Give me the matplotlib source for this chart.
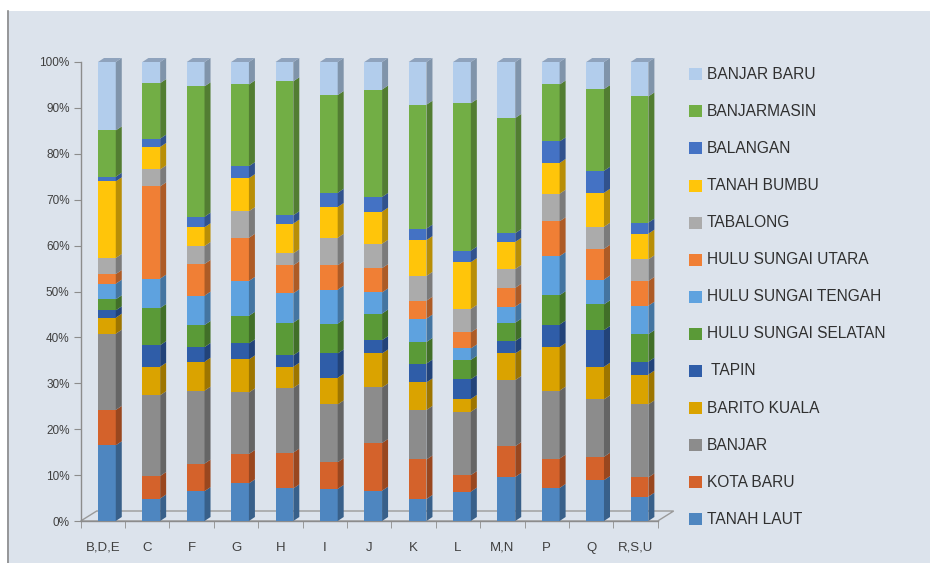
import matplotlib
matplotlib.use("Agg")
import matplotlib.pyplot as plt
from matplotlib.patches import Rectangle, Polygon
from matplotlib.lines import Line2D
import numpy as np

categories = ["B,D,E", "C", "F", "G", "H", "I", "J", "K", "L", "M,N", "P", "Q", "R,S,U"]

series_names = ["TANAH LAUT", "KOTA BARU", "BANJAR", "BARITO KUALA", " TAPIN",
                "HULU SUNGAI SELATAN", "HULU SUNGAI TENGAH", "HULU SUNGAI UTARA",
                "TABALONG", "TANAH BUMBU", "BALANGAN", "BANJARMASIN", "BANJAR BARU"]

tanah_laut   = [16.5, 4.9, 6.5, 8.2, 7.1, 7.0, 6.6, 4.8, 6.4, 9.6, 7.2, 8.9, 5.3]
kota_baru    = [7.7, 4.9, 6.0, 6.4, 7.8, 5.8, 10.4, 8.6, 3.6, 6.7, 6.4, 5.1, 4.2]
banjar       = [16.6, 17.6, 15.9, 13.4, 14.1, 12.6, 12.1, 10.8, 13.8, 14.4, 14.8, 12.5, 15.9]
barito_kuala = [3.5, 6.2, 6.3, 7.2, 4.6, 5.8, 7.4, 6.0, 2.8, 5.8, 9.5, 7.1, 6.5]
tapin        = [1.6, 4.7, 3.2, 3.5, 2.5, 5.3, 2.9, 4.1, 4.3, 2.7, 4.9, 8.0, 2.8]
hss          = [2.4, 8.1, 4.8, 6.0, 7.1, 6.5, 5.8, 4.7, 4.2, 4.0, 6.4, 5.6, 6.0]
hst          = [3.4, 6.4, 6.4, 7.6, 6.4, 7.4, 4.6, 5.1, 2.5, 3.5, 8.5, 5.4, 6.2]
hsu          = [2.1, 20.1, 6.9, 9.4, 6.1, 5.3, 5.3, 3.9, 3.5, 4.1, 7.6, 6.7, 5.4]
tabalong     = [3.5, 3.7, 3.9, 5.8, 2.6, 6.0, 5.3, 5.4, 5.1, 4.1, 6.0, 4.8, 4.7]
tanah_bumbu  = [16.7, 4.9, 4.1, 7.2, 6.5, 6.7, 7.0, 7.8, 10.2, 5.9, 6.7, 7.4, 5.6]
balangan     = [1.0, 1.8, 2.3, 2.6, 1.8, 3.1, 3.2, 2.5, 2.5, 1.9, 4.7, 4.8, 2.4]
banjarmasin  = [10.1, 12.1, 28.4, 17.8, 29.2, 21.3, 23.4, 27.0, 32.1, 25.1, 12.4, 17.8, 27.5]
banjar_baru  = [14.9, 4.6, 5.3, 4.9, 4.2, 7.2, 6.0, 9.3, 9.0, 12.2, 4.9, 5.9, 7.5]

series_values = [tanah_laut, kota_baru, banjar, barito_kuala, tapin, hss, hst, hsu,
                 tabalong, tanah_bumbu, balangan, banjarmasin, banjar_baru]

colors = ["#4E86C0", "#D4622B", "#8C8C8C", "#DAA300", "#2F5DA8", "#5A9A37", "#5EA2DF",
          "#F07F35", "#ABABAB", "#FFC50A", "#4472C4", "#72AE45", "#B2CDEC"]

W, H = 930, 563
fig = plt.figure(figsize=(W / 100, H / 100), dpi=100)
fig.patch.set_facecolor("white")

# chart background panel
bg = Rectangle((7 / W, 0), 1 - 7 / W, (H - 11) / H, transform=fig.transFigure,
               facecolor="#DCE3EC", edgecolor="none", zorder=-10)
fig.patches.append(bg)
fig.lines.append(Line2D([7.5 / W, 7.5 / W], [0, (H - 11) / H], transform=fig.transFigure,
                        color="#8A8A8A", linewidth=1.2, zorder=-9))

x_left, x_right = 80.7, 657.7
y0_px, y1_px = 521.0, 62.0
ax = fig.add_axes([x_left / W, (H - y0_px) / H, (x_right - x_left) / W, (y0_px - y1_px) / H])
ax.set_zorder(5)
ax.set_facecolor("none")
ax.set_xlim(-0.5, len(categories) - 0.5)
ax.set_ylim(0, 1)

def darken(c, f):
    r, g, b = matplotlib.colors.to_rgb(c)
    return (r * f, g * f, b * f)

# 3D depth in data units
px_x = (len(categories)) / (x_right - x_left)
px_y = 1.0 / (y0_px - y1_px)
bar_dx, bar_dy = 6 * px_x, 4 * px_y
floor_dx, floor_dy = 16 * px_x, 10 * px_y

# floor
floor = Polygon([(-0.5, 0), (len(categories) - 0.5, 0),
                 (len(categories) - 0.5 + floor_dx, floor_dy), (-0.5 + floor_dx, floor_dy)],
                closed=True, facecolor="none", edgecolor="#9A9A9A", linewidth=1.0, clip_on=False, zorder=1)
ax.add_patch(floor)

xs = np.arange(len(categories))
front_w = 0.40
front_off = 0.09
bottom = np.zeros(len(categories))
totals = np.sum(np.array(series_values), axis=0)
for vals, col in zip(series_values, colors):
    v = np.array(vals) / totals
    ax.bar(xs + front_off, v, width=front_w, bottom=bottom, color=col, edgecolor="none",
           zorder=3, clip_on=False)
    for i in range(len(xs)):
        xr = xs[i] + front_off + front_w / 2
        b, t = bottom[i], bottom[i] + v[i]
        ax.add_patch(Polygon([(xr, b), (xr + bar_dx, b + bar_dy), (xr + bar_dx, t + bar_dy), (xr, t)],
                             closed=True, facecolor=darken(col, 0.72), edgecolor="none",
                             zorder=3, clip_on=False))
    bottom = bottom + v

# top faces
for i in range(len(xs)):
    xl = xs[i] + front_off - front_w / 2
    xr = xs[i] + front_off + front_w / 2
    t = bottom[i]
    ax.add_patch(Polygon([(xl, t), (xr, t), (xr + bar_dx, t + bar_dy), (xl + bar_dx, t + bar_dy)],
                         closed=True, facecolor="#8FA3BD", edgecolor="none", zorder=3, clip_on=False))

# axes styling
for s in ["top", "right"]:
    ax.spines[s].set_visible(False)
for s in ["left", "bottom"]:
    ax.spines[s].set_color("#8C8C8C")
    ax.spines[s].set_linewidth(1.0)

yt = np.linspace(0, 1, 11)
ax.set_yticks(yt)
ax.set_yticklabels([f"{int(round(t * 100))}%" for t in yt])
ax.tick_params(axis="y", length=5, color="#8C8C8C", labelsize=8.5, labelcolor="#404040", pad=3)
ax.set_xticks(xs)
ax.set_xticklabels(categories)
ax.tick_params(axis="x", which="major", length=0, labelsize=9.5, labelcolor="#404040", pad=15)
ax.set_xticks(np.arange(-0.5, len(categories)), minor=True)
ax.tick_params(axis="x", which="minor", length=5, color="#8C8C8C")
for lbl in ax.get_yticklabels() + ax.get_xticklabels():
    lbl.set_family(["Liberation Sans"])

# legend (top to bottom: reversed series order)
leg_top, leg_step = 74.3, 37.08
for k, (name, col) in enumerate(zip(series_names[::-1], colors[::-1])):
    yc = leg_top + k * leg_step
    fig.patches.append(Rectangle((689 / W, (H - yc - 6) / H), 13 / W, 12 / H,
                                 transform=fig.transFigure, facecolor=col, edgecolor="none"))
    fig.text(707 / W, (H - yc) / H, name, ha="left", va="center", fontsize=11.2,
             color="#303030", family=["Liberation Sans"])

fig.savefig("out.png", dpi=100, facecolor=fig.get_facecolor())
